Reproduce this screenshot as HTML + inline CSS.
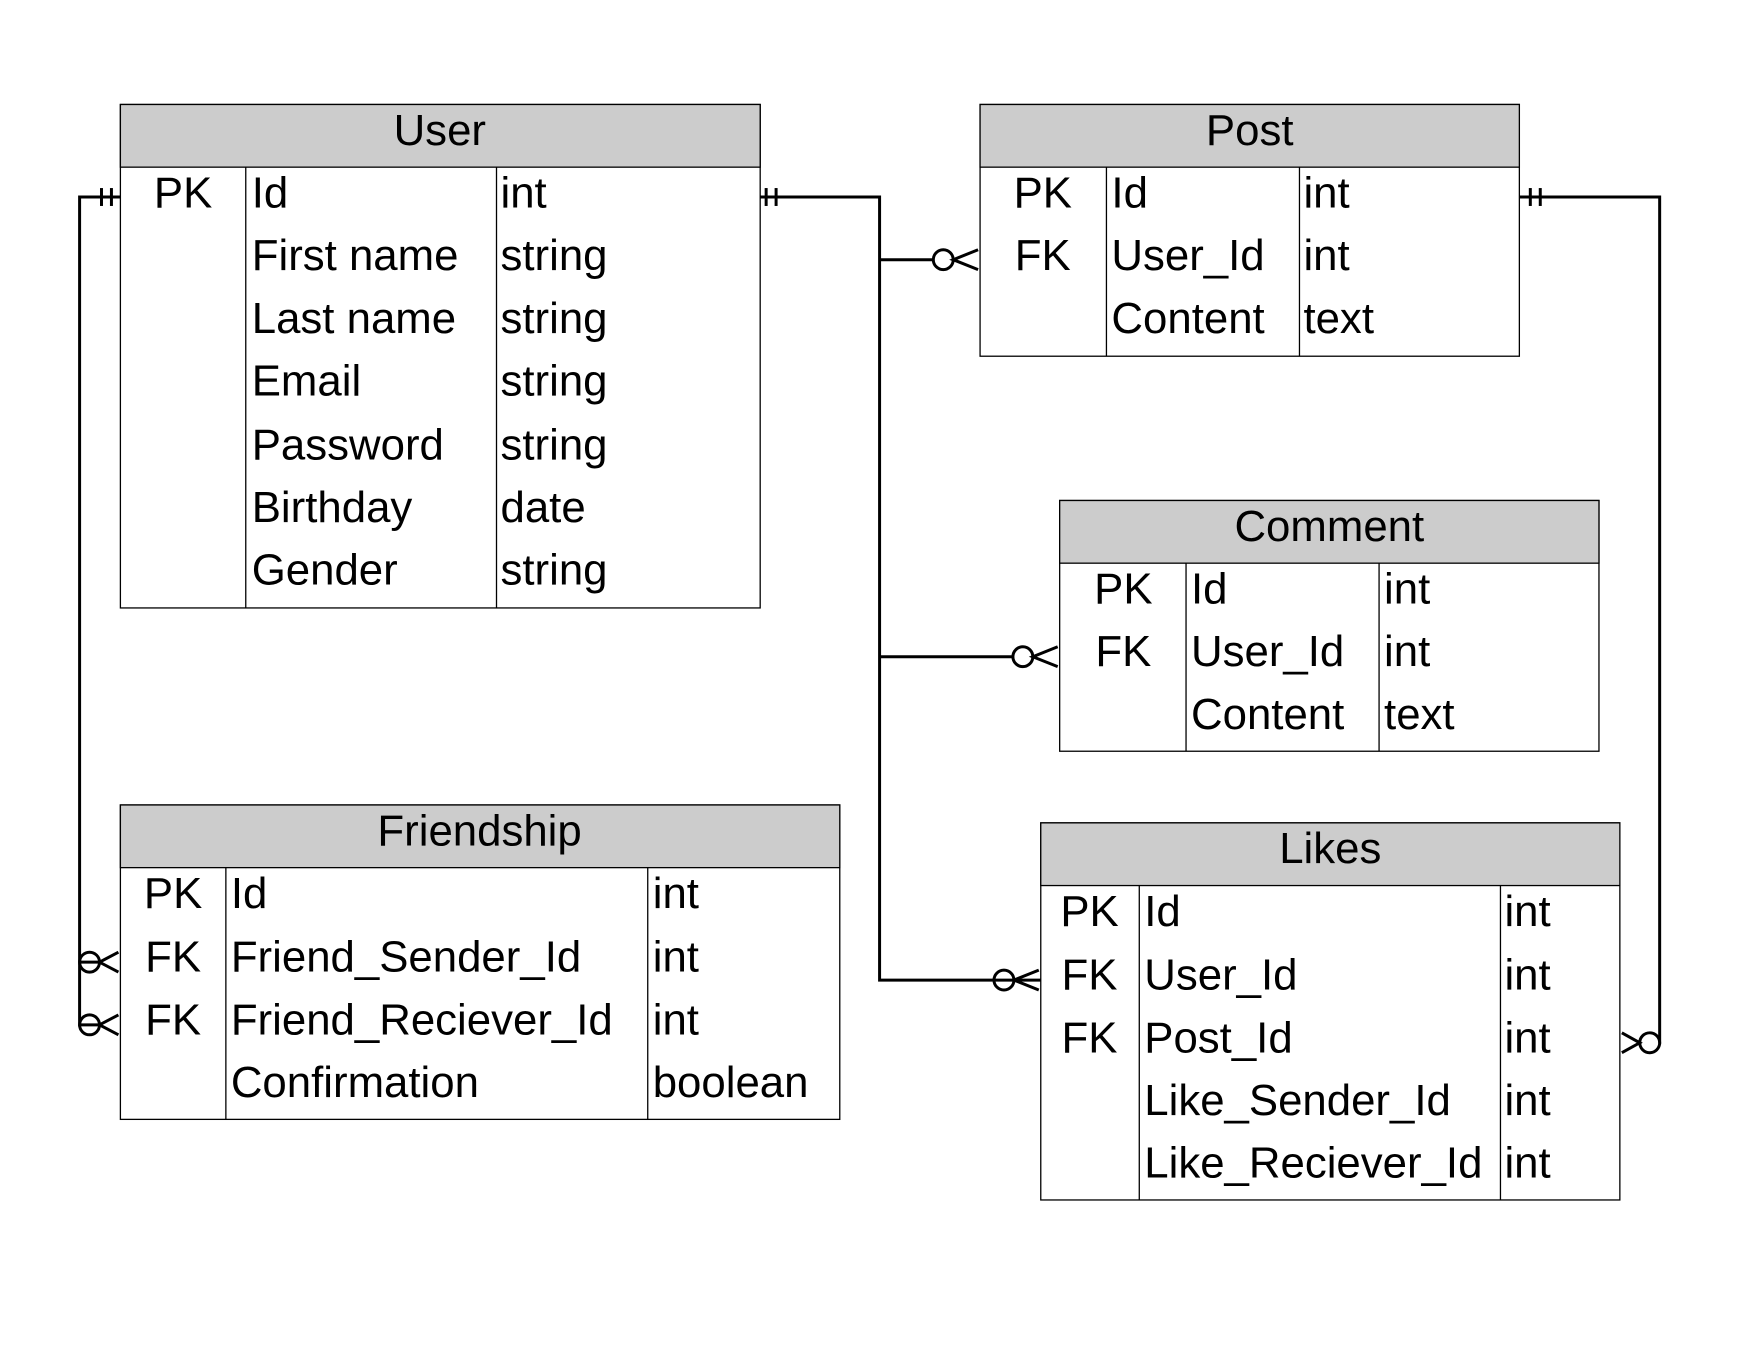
<!DOCTYPE html>
<html><head><meta charset="utf-8"><style>
html,body{margin:0;padding:0;background:#fff;}
svg{display:block;}
text{font-family:"Liberation Sans",sans-serif;font-size:44px;fill:#000;}
</style></head><body>
<svg width="1760" height="1360" viewBox="0 0 1760 1360" xmlns="http://www.w3.org/2000/svg">
<g transform="scale(0.995)">
<g fill="none" stroke="#000" stroke-width="1.3">
<rect x="121" y="105" width="643" height="506" fill="#fff"/>
<rect x="121" y="105" width="643" height="63" fill="#ccc"/>
<line x1="247" y1="168" x2="247" y2="611"/><line x1="499" y1="168" x2="499" y2="611"/>
<rect x="985" y="105" width="542" height="253" fill="#fff"/>
<rect x="985" y="105" width="542" height="63" fill="#ccc"/>
<line x1="1112" y1="168" x2="1112" y2="358"/><line x1="1306" y1="168" x2="1306" y2="358"/>
<rect x="1065" y="503" width="542" height="252" fill="#fff"/>
<rect x="1065" y="503" width="542" height="63" fill="#ccc"/>
<line x1="1192" y1="566" x2="1192" y2="755"/><line x1="1386" y1="566" x2="1386" y2="755"/>
<rect x="121" y="809" width="723" height="316" fill="#fff"/>
<rect x="121" y="809" width="723" height="63" fill="#ccc"/>
<line x1="227" y1="872" x2="227" y2="1125"/><line x1="651" y1="872" x2="651" y2="1125"/>
<rect x="1046" y="827" width="582" height="379" fill="#fff"/>
<rect x="1046" y="827" width="582" height="63" fill="#ccc"/>
<line x1="1145" y1="890" x2="1145" y2="1206"/><line x1="1508" y1="890" x2="1508" y2="1206"/>
</g>
<g fill="none" stroke="#000" stroke-width="3">
<polyline points="764,198 884,198 884,985 1046,985"/>
<line x1="884" y1="261" x2="938" y2="261"/>
<line x1="884" y1="660" x2="1018" y2="660"/>
<line x1="770" y1="189" x2="770" y2="207"/><line x1="780" y1="189" x2="780" y2="207"/>
<circle cx="948" cy="261" r="10"/><polyline points="983,251 958,261 983,271"/>
<circle cx="1028" cy="660" r="10"/><polyline points="1063,650 1038,660 1063,670"/>
<circle cx="1009" cy="985" r="10"/><polyline points="1044,975 1019,985 1044,995"/>
<polyline points="121,198 80,198 80,1030 101,1030"/>
<line x1="80" y1="967" x2="101" y2="967"/>
<line x1="102" y1="189" x2="102" y2="207"/><line x1="112" y1="189" x2="112" y2="207"/>
<circle cx="90" cy="967" r="10"/><polyline points="119,957 100,967 119,977"/>
<circle cx="90" cy="1030" r="10"/><polyline points="119,1020 100,1030 119,1040"/>
<polyline points="1527,198 1668,198 1668,1048 1667,1048"/>
<line x1="1538" y1="189" x2="1538" y2="207"/><line x1="1548" y1="189" x2="1548" y2="207"/>
<circle cx="1658" cy="1048" r="10"/><polyline points="1630,1038 1648,1048 1630,1058"/>
</g>
<g dominant-baseline="central">
<text x="442" y="131" text-anchor="middle">User</text>
<text x="184" y="194" text-anchor="middle">PK</text>
<text x="253" y="194">Id</text><text x="503" y="194">int</text>
<text x="253" y="257">First name</text><text x="503" y="257">string</text>
<text x="253" y="320">Last name</text><text x="503" y="320">string</text>
<text x="253" y="383">Email</text><text x="503" y="383">string</text>
<text x="253" y="447">Password</text><text x="503" y="447">string</text>
<text x="253" y="510">Birthday</text><text x="503" y="510">date</text>
<text x="253" y="573">Gender</text><text x="503" y="573">string</text>

<text x="1256" y="131" text-anchor="middle">Post</text>
<text x="1048" y="194" text-anchor="middle">PK</text><text x="1117" y="194">Id</text><text x="1310" y="194">int</text>
<text x="1048" y="257" text-anchor="middle">FK</text><text x="1117" y="257">User_Id</text><text x="1310" y="257">int</text>
<text x="1117" y="320">Content</text><text x="1310" y="320">text</text>

<text x="1336" y="529" text-anchor="middle">Comment</text>
<text x="1129" y="592" text-anchor="middle">PK</text><text x="1197" y="592">Id</text><text x="1391" y="592">int</text>
<text x="1129" y="655" text-anchor="middle">FK</text><text x="1197" y="655">User_Id</text><text x="1391" y="655">int</text>
<text x="1197" y="718">Content</text><text x="1391" y="718">text</text>

<text x="482" y="835" text-anchor="middle">Friendship</text>
<text x="174" y="898" text-anchor="middle">PK</text><text x="232" y="898">Id</text><text x="656" y="898">int</text>
<text x="174" y="962" text-anchor="middle">FK</text><text x="232" y="962">Friend_Sender_Id</text><text x="656" y="962">int</text>
<text x="174" y="1025" text-anchor="middle">FK</text><text x="232" y="1025">Friend_Reciever_Id</text><text x="656" y="1025">int</text>
<text x="232" y="1088">Confirmation</text><text x="656" y="1088">boolean</text>

<text x="1337" y="853" text-anchor="middle">Likes</text>
<text x="1095" y="916" text-anchor="middle">PK</text><text x="1150" y="916">Id</text><text x="1512" y="916">int</text>
<text x="1095" y="980" text-anchor="middle">FK</text><text x="1150" y="980">User_Id</text><text x="1512" y="980">int</text>
<text x="1095" y="1043" text-anchor="middle">FK</text><text x="1150" y="1043">Post_Id</text><text x="1512" y="1043">int</text>
<text x="1150" y="1106">Like_Sender_Id</text><text x="1512" y="1106">int</text>
<text x="1150" y="1169">Like_Reciever_Id</text><text x="1512" y="1169">int</text>
</g>
</g>
</svg>
</body></html>
